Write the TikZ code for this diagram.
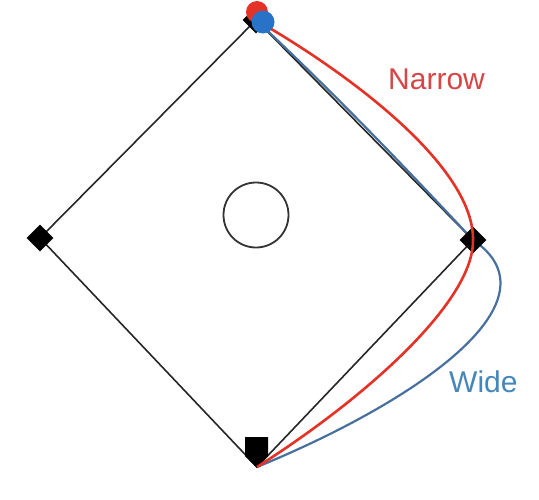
\documentclass[tikz,border=0pt]{standalone}
\usepackage{fontspec}
\setmainfont{Liberation Sans}
\usetikzlibrary{shapes.geometric}
\definecolor{runred}{RGB}{228,50,38}
\definecolor{runblue}{RGB}{72,112,158}
\definecolor{dotblue}{RGB}{40,115,200}
\definecolor{labred}{RGB}{214,70,70}
\definecolor{labblue}{RGB}{70,135,185}
\begin{document}
\begin{tikzpicture}[x=1pt,y=-1pt,
  base/.style={diamond, fill=black, inner sep=0pt, minimum width=27pt, minimum height=27pt},
  edge/.style={draw=black!85, line width=1.6pt},
  narrow/.style={draw=runred, line width=2.6pt},
  wide/.style={draw=runblue, line width=2.2pt},
  lab/.style={font=\fontsize{30}{36}\selectfont, inner sep=0pt}]
\useasboundingbox (0,0) rectangle (539,499);
\fill[white] (0,0) rectangle (539,499);
\coordinate (home) at (257,467);
\coordinate (first) at (473,240);
\coordinate (second) at (256,20);
\coordinate (third) at (40,238);
% infield lines
\draw[edge] (home) -- (first) -- (second) -- (third) -- cycle;
% pitcher's mound
\node[circle, draw=black!80, line width=1.8pt, minimum size=65pt, inner sep=0pt] (mound) at (256,215) {};
% wide route
\draw[wide] (home) .. controls (420,400) and (562,300) .. (first) .. controls (404,166) and (334,93) .. (second);
% bases
\node[base] (b1) at (first) {};
\node[base] (b3) at (third) {};
\node[base] (b2) at (second) {};
\fill[black] (245,437) -- (268,437) -- (268,456) -- (257,468) -- (245,456) -- cycle;
% narrow route
\draw[narrow] (home) .. controls (370,395) and (474,300) .. (first) .. controls (474,170) and (360,80) .. (second);
% runners
\node[circle, fill=runred, minimum size=22pt, inner sep=0pt] (rdot) at (257,12) {};
\node[circle, fill=dotblue, minimum size=23pt, inner sep=0pt] (bdot) at (263,22) {};
% labels
\node[lab, text=labred, anchor=base west] (narrowlab) at (388,89) {Narrow};
\node[lab, text=labblue, anchor=base west] (widelab) at (449,392) {Wide};
\end{tikzpicture}
\end{document}
